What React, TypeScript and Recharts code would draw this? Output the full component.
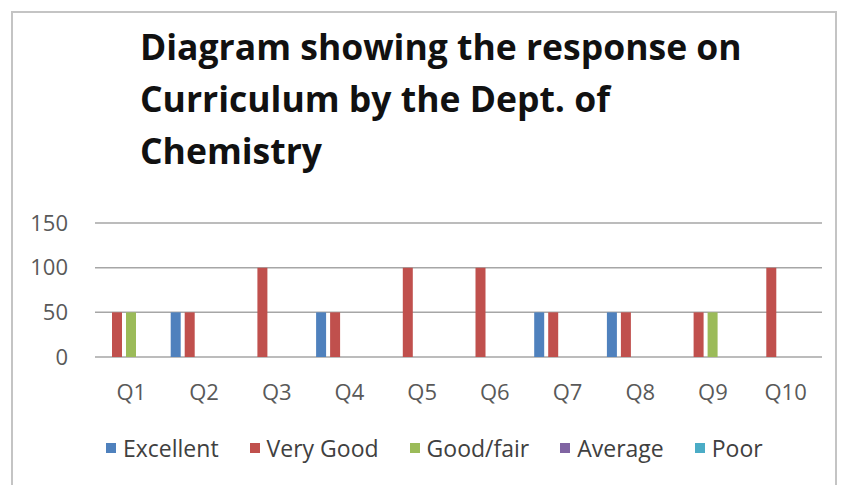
import React from 'react';
import { BarChart, Bar, XAxis, YAxis, CartesianGrid, Legend } from 'recharts';

const categories = ['Q1', 'Q2', 'Q3', 'Q4', 'Q5', 'Q6', 'Q7', 'Q8', 'Q9', 'Q10'];
const excellent = [0, 50, 0, 50, 0, 0, 50, 50, 0, 0];
const veryGood = [50, 50, 100, 50, 100, 100, 50, 50, 50, 100];
const goodFair = [50, 0, 0, 0, 0, 0, 0, 0, 50, 0];
const average = [0, 0, 0, 0, 0, 0, 0, 0, 0, 0];
const poor = [0, 0, 0, 0, 0, 0, 0, 0, 0, 0];
const yTicks = [0, 50, 100, 150];

const seriesNames = ['Excellent', 'Very Good', 'Good/fair', 'Average', 'Poor'];
const seriesColors = ['#4F81BD', '#C0504D', '#9BBB59', '#8064A2', '#4BACC6'];
const seriesValues = [excellent, veryGood, goodFair, average, poor];

const data = categories.map((c, i) => {
  const row: Record<string, string | number> = { name: c };
  seriesNames.forEach((s, k) => {
    row[s] = seriesValues[k][i];
  });
  return row;
});

const FONT = '"Open Sans", sans-serif';

const renderLegend = (props: any) => {
  const payload = [...(props.payload || [])].sort(
    (a: any, b: any) => seriesNames.indexOf(a.value) - seriesNames.indexOf(b.value)
  );
  return (
    <div style={{ display: 'flex', gap: 31, paddingLeft: 106, fontFamily: FONT, fontSize: 23, lineHeight: '30px', color: '#404040' }}>
      {payload.map((p: any) => (
        <div key={p.value} style={{ display: 'flex', alignItems: 'center' }}>
          <span style={{ display: 'inline-block', width: 10, height: 10, background: p.color, marginRight: 7 }} />
          <span>{p.value}</span>
        </div>
      ))}
    </div>
  );
};

export default function App() {
  return (
    <div style={{ position: 'absolute', left: 0, top: 0, width: 843, height: 485, background: '#fff', overflow: 'hidden' }}>
      <div
        style={{
          position: 'absolute',
          left: 11,
          top: 11,
          width: 826,
          height: 500,
          border: '2px solid #c4c4c4',
          boxSizing: 'border-box',
        }}
      />
      <div
        style={{
          position: 'absolute',
          left: 140,
          top: 20,
          fontFamily: FONT,
          fontWeight: 700,
          fontSize: 35.5,
          lineHeight: '52px',
          color: '#111',
        }}
      >
        <div>Diagram showing the response on</div>
        <div>Curriculum by the Dept. of</div>
        <div>Chemistry</div>
      </div>
      <div style={{ position: 'absolute', left: 0, top: 0 }}>
        <BarChart
          width={843}
          height={485}
          data={data}
          margin={{ top: 223, right: 21, left: 35, bottom: 40 }}
          barSize={10}
          barGap={4}
        >
          <CartesianGrid vertical={false} stroke="#a6a6a6" strokeWidth={1.5} />
          <XAxis
            dataKey="name"
            axisLine={false}
            tickLine={false}
            tickSize={0}
            tickMargin={27}
            height={48}
            tick={{ fill: '#595959', fontSize: 22, fontFamily: FONT }}
            interval={0}
          />
          <YAxis
            domain={[0, 150]}
            ticks={yTicks}
            axisLine={false}
            tickLine={false}
            tickSize={0}
            tickMargin={27}
            width={60}
            tick={{ fill: '#595959', fontSize: 22, fontFamily: FONT }}
          />
          <Legend
            verticalAlign="bottom"
            height={40}
            content={renderLegend}
            wrapperStyle={{ top: 433, bottom: 'auto', left: 0, width: 843 }}
          />
          {seriesNames.map((s, k) => (
            <Bar key={s} dataKey={s} fill={seriesColors[k]} isAnimationActive={false} />
          ))}
        </BarChart>
      </div>
    </div>
  );
}
